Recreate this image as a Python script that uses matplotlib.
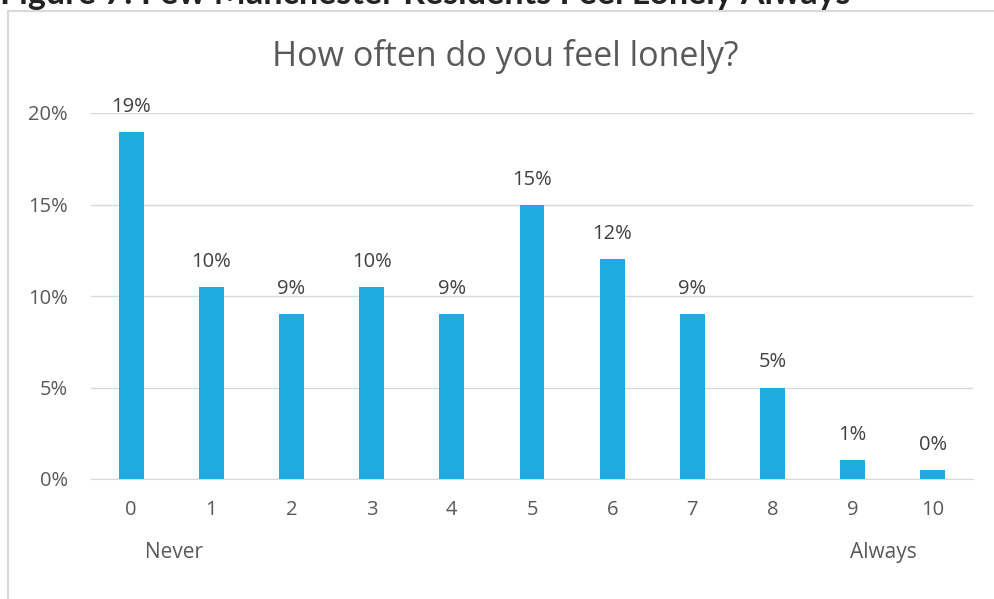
import matplotlib
matplotlib.use("Agg")
import matplotlib.pyplot as plt
from matplotlib.patches import Rectangle

categories = ["0", "1", "2", "3", "4", "5", "6", "7", "8", "9", "10"]
values = [18.95, 10.5, 9.0, 10.5, 9.0, 14.95, 12.0, 9.0, 5.0, 1.05, 0.5]
value_labels = ["19%", "10%", "9%", "10%", "9%", "15%", "12%", "9%", "5%", "1%", "0%"]
y_ticks = [0, 5, 10, 15, 20]
y_tick_labels = ["0%", "5%", "10%", "15%", "20%"]
title = "How often do you feel lonely?"
fig_title = "Figure 7: Few Manchester Residents Feel Lonely Always"
end_labels = ["Never", "Always"]

plt.rcParams['font.family'] = ['Open Sans', 'DejaVu Sans']

fig = plt.figure(figsize=(9.95, 5.99), dpi=100)
W, H = 995, 599

# chart frame
frame = Rectangle((8 / W, -0.1), 1.1, (H - 11) / H + 0.1, transform=fig.transFigure,
                  facecolor="white", edgecolor="#d9d9d9", linewidth=1.5, zorder=-5)
fig.patches.append(frame)
fig.text(0.0, 1.0 - 4 / H, fig_title, ha="left", va="baseline", fontsize=24.5, fontweight="bold",
         color="#222222", family=["Lato", "DejaVu Sans"])

ax = fig.add_axes([91 / W, 1 - 479 / H, (973 - 91) / W, (479 - 113) / H])
x = list(range(len(categories)))
ax.bar(x, values, width=0.31, color="#1FABE2", zorder=3)
ax.set_xlim(-0.5, 10.5)
ax.set_ylim(0, 20)
ax.set_yticks(y_ticks)
ax.set_yticklabels(y_tick_labels)
ax.set_xticks(x)
ax.set_xticklabels(categories)
ax.grid(axis="y", color="#d9d9d9", linewidth=1, zorder=0)
for s in ["top", "right", "left"]:
    ax.spines[s].set_visible(False)
ax.spines["bottom"].set_color("#d9d9d9")
ax.tick_params(axis="both", length=0, colors="#595959", labelsize=14.5)
ax.tick_params(axis="x", pad=15)
ax.tick_params(axis="y", pad=16.5)
for xi, v, lab in zip(x, values, value_labels):
    ax.annotate(lab, (xi, v), xytext=(0, 14.5), textcoords="offset points", ha="center",
                va="baseline", fontsize=14.5, color="#404040")
ax.set_facecolor("none")

fig.text(505 / W, 1 - 57 / H, title, ha="center", va="center", fontsize=24.5, color="#595959")
ax.text(0.54, -0.2, end_labels[0], transform=ax.get_xaxis_transform(), ha="center", va="center",
        fontsize=15, color="#595959")
ax.text(9.38, -0.2, end_labels[1], transform=ax.get_xaxis_transform(), ha="center", va="center",
        fontsize=15, color="#595959")

fig.savefig("out.png", dpi=100)
